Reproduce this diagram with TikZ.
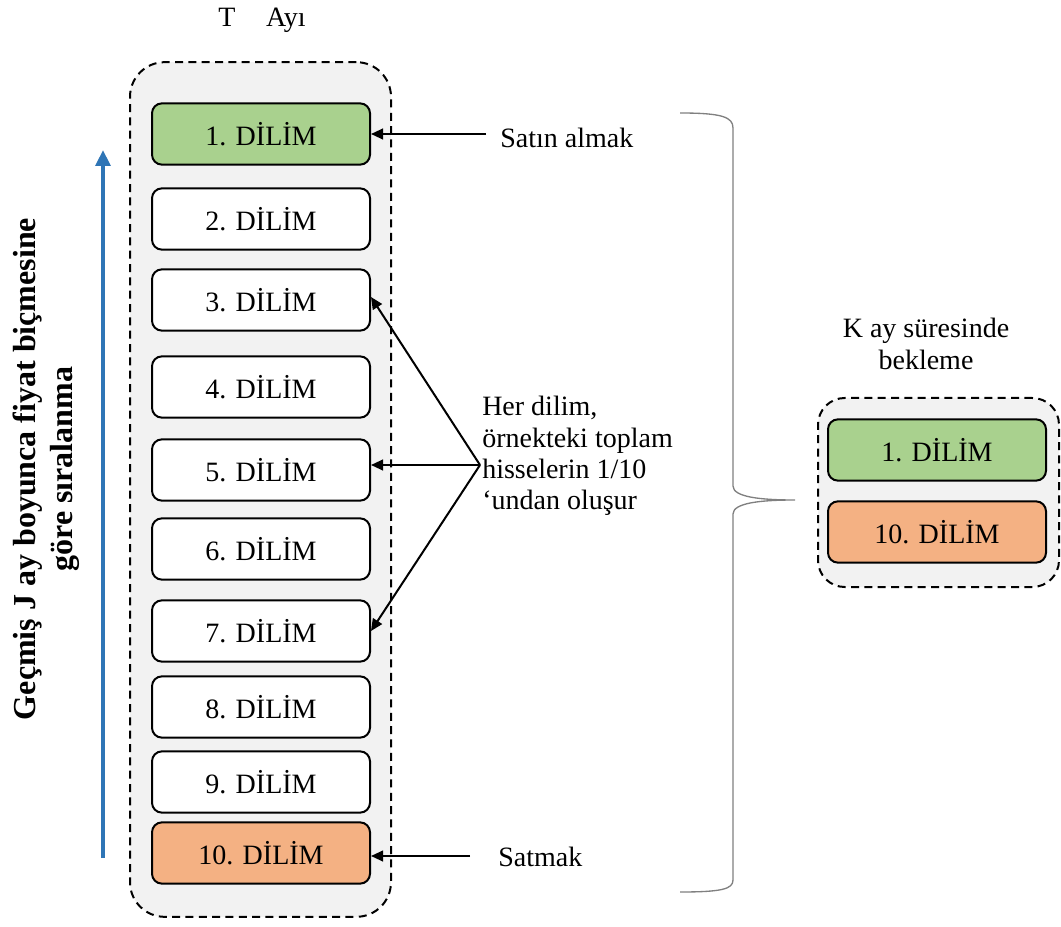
\documentclass[tikz,border=0pt]{standalone}
\usepackage{fontspec}
\setmainfont{Liberation Serif}
\usetikzlibrary{arrows.meta}
\definecolor{gfill}{HTML}{A9D18E}
\definecolor{ofill}{HTML}{F4B183}
\definecolor{cfill}{HTML}{F2F2F2}
\definecolor{bluearr}{HTML}{2E75B6}
\definecolor{bracegray}{HTML}{808080}
\begin{document}
\begin{tikzpicture}[x=0.75pt,y=-0.75pt,
  slice/.style={draw=black, line width=1.5pt, rounded corners=7.5pt, fill=white,
    minimum width=163.5pt, minimum height=46pt, inner sep=0pt, font=\fontsize{21}{25}\selectfont},
  container/.style={draw=black, dashed, dash pattern=on 6pt off 4pt, line width=1.5pt, fill=cfill, inner sep=0pt},
  lbl/.style={font=\fontsize{21}{25}\selectfont, inner sep=0pt},
  arr/.style={line width=1.5pt, -{Triangle[length=9pt,width=8pt]}}]
\useasboundingbox (0,0) rectangle (1061,927);
% left container
\node[container, rounded corners=26pt, minimum width=195.75pt, minimum height=641pt] (lc) at (260.5,489.5) {};
\node[lbl] (title) at (262,20) {T\hspace{1.1em}Ayı};
% slices
\node[slice, fill=gfill] (s1) at (261,134) {1. DİLİM};
\node[slice] (s2) at (261,219) {2. DİLİM};
\node[slice] (s3) at (261,300) {3. DİLİM};
\node[slice] (s4) at (261,387) {4. DİLİM};
\node[slice] (s5) at (261,470) {5. DİLİM};
\node[slice] (s6) at (261,549) {6. DİLİM};
\node[slice] (s7) at (261,631) {7. DİLİM};
\node[slice] (s8) at (261,707) {8. DİLİM};
\node[slice] (s9) at (261,782) {9. DİLİM};
\node[slice, fill=ofill] (s10) at (261,853) {10. DİLİM};
% labels and arrows
\node[lbl, anchor=west] (buy) at (500,138) {Satın almak};
\node[lbl, anchor=west] (sell) at (498,857) {Satmak};
\coordinate (buyend) at (486,134);
\coordinate (sellend) at (470,856);
\draw[arr] (buyend) -- (s1.east |- buyend);
\draw[arr] (sellend) -- (s10.east |- sellend);
\coordinate (hub) at (480,465);
\node[lbl, anchor=north west, align=left, font=\fontsize{21}{23.5}\selectfont] (desc) at (482,396) {Her dilim,\\örnekteki toplam\\hisselerin 1/10\\‘undan oluşur};
\draw[arr] (hub) -- (s3.east |- 0,297);
\draw[arr] (hub) -- (s5.east |- hub);
\draw[arr] (hub) -- (s7.east |- 0,631);
% brace
\draw[bracegray, line width=1pt] (680,113) .. controls (722,113) and (733,117) .. (733,128) -- (733,486)
  .. controls (733,497) and (760,500) .. (795,500)
  .. controls (760,500) and (733,503) .. (733,514) -- (733,880)
  .. controls (733,889) and (722,892) .. (680,892);
% right side
\node[lbl, align=center, font=\fontsize{21}{24}\selectfont] (ktext) at (926,344) {K ay süresinde\\bekleme};
\node[container, rounded corners=20pt, minimum width=180.75pt, minimum height=141.75pt] (rc) at (938.5,492.5) {};
\node[slice, fill=gfill] (r1) at (937,450) {1. DİLİM};
\node[slice, fill=ofill] (r10) at (937,532) {10. DİLİM};
% left vertical
\coordinate (vb) at (103,858);
\coordinate (vt) at (103,150);
\draw[bluearr, line width=3pt, -{Triangle[length=12pt,width=11pt]}] (vb) -- (vt);
\node[rotate=90, align=center, font=\fontsize{24}{28}\selectfont\bfseries, inner sep=0pt] (vtext) at (46,469) {Geçmiş J ay boyunca fiyat biçmesine\\göre sıralanma};
\end{tikzpicture}
\end{document}
